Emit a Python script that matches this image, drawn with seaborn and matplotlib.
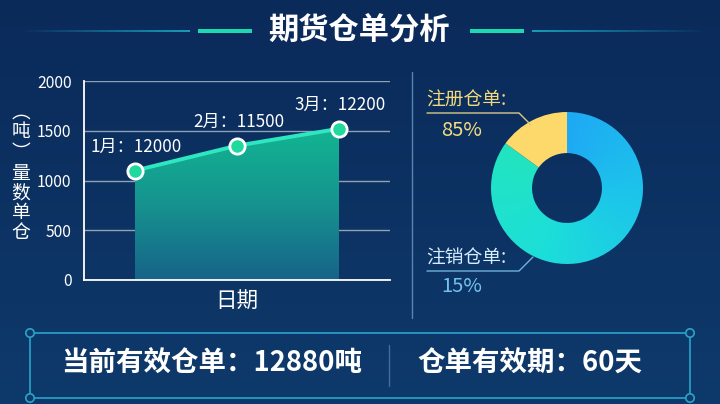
import matplotlib.pyplot as plt
import numpy as np
import seaborn as sns
from matplotlib.colors import LinearSegmentedColormap, to_rgb
from matplotlib.patches import Circle, Rectangle


# Canvas size in pixels (dpi 100).
W, H = 720, 404

# Line chart data.
MONTHS = ["1月", "2月", "3月"]
VOLUMES = [1100, 1350, 1520]
POINT_LABELS = ["1月：12000", "2月：11500", "3月：12200"]
Y_TICKS = [0, 500, 1000, 1500, 2000]

# Stacked y-axis title, top to bottom as in the picture.
Y_TITLE_UNIT = "︵\n吨\n︶"
Y_TITLE_NAME = "量\n数\n单\n仓"

# Donut data: big gradient wedge, then the small yellow one.
PIE_SHARES = [85, 15]
REGISTERED = ("注册仓单:", "85%")
CANCELLED = ("注销仓单:", "15%")

# Summary strip.
SUMMARY = ["当前有效仓单：12880吨", "仓单有效期：60天"]

TITLE = "期货仓单分析"

# Colours.
BG_TOP = "#0a2a5a"
BG_BOTTOM = "#0e3a6b"
TEAL = "#1ed9b0"
LINE = "#2ee6c0"
YELLOW = "#fdd86a"
FRAME = "#2aa3c9"


def pixel_axes(fig, zorder):
    """Full-figure axes working in pixel coordinates (y downwards)."""
    ax = fig.add_axes([0, 0, 1, 1], zorder=zorder)
    ax.set_xlim(0, W)
    ax.set_ylim(H, 0)
    ax.axis("off")
    return ax


def rect_px(left, top, width, height):
    return [left / W, 1 - (top + height) / H, width / W, height / H]


def draw_background(fig):
    ax = pixel_axes(fig, -10)
    grad = np.linspace(0, 1, 256)[:, None]
    cmap = LinearSegmentedColormap.from_list("bg", [BG_TOP, BG_BOTTOM])
    ax.imshow(grad, cmap=cmap, extent=[0, W, H, 0], aspect="auto")
    ax.set_xlim(0, W)
    ax.set_ylim(H, 0)


def draw_title(ov):
    ov.text(359, 30, TITLE, ha="center", va="center", color="white",
            fontsize=21.8, fontweight="bold")
    ov.add_patch(Rectangle((198, 28.5), 54, 4.5, color=TEAL, lw=0))
    ov.add_patch(Rectangle((470, 28.5), 54, 4.5, color=TEAL, lw=0))
    # thin lines fading out towards the edges
    r, g, b = to_rgb("#1aa8c4")
    fade = np.linspace(0, 1, 200)
    strip = np.zeros((1, 200, 4))
    strip[0, :, 0], strip[0, :, 1], strip[0, :, 2] = r, g, b
    strip[0, :, 3] = fade * 0.9
    ov.imshow(strip, extent=[18, 190, 31.6, 30.2], aspect="auto")
    ov.imshow(strip[:, ::-1], extent=[532, 708, 31.6, 30.2], aspect="auto")
    ov.set_xlim(0, W)
    ov.set_ylim(H, 0)


def draw_line_chart(fig):
    ax = fig.add_axes(rect_px(84, 81, 306, 199), zorder=1)
    ax.patch.set_alpha(0)
    x = np.arange(len(MONTHS))

    # gradient area under the line
    fill = ax.fill_between(x, VOLUMES, 0, facecolor="none", lw=0)
    cmap = LinearSegmentedColormap.from_list(
        "area", ["#176389", "#16938f", "#12b592"])
    grad = np.linspace(0, 1, 256)[:, None]
    im = ax.imshow(grad, cmap=cmap, origin="lower", aspect="auto",
                   extent=[-0.5, 2.5, 0, max(VOLUMES)], zorder=2)
    im.set_clip_path(fill.get_paths()[0], transform=ax.transData)

    sns.lineplot(x=x, y=VOLUMES, ax=ax, color=LINE, linewidth=2.8,
                 marker="o", markersize=11, markerfacecolor="#1fd99e",
                 markeredgecolor="white", markeredgewidth=2, zorder=5)

    for xi, yi, label in zip(x, VOLUMES, POINT_LABELS):
        ax.annotate(label, (xi, yi), xytext=(1, 17), textcoords="offset points",
                    ha="center", va="center", color="white", fontsize=12.3,
                    zorder=6)

    ax.set_xlim(-0.5, 2.5)
    ax.set_ylim(0, 2000)
    ax.set_yticks(Y_TICKS)
    ax.set_xticks([])
    ax.grid(axis="y", color="white", alpha=0.55, linewidth=1)
    ax.grid(axis="x", visible=False)
    ax.tick_params(axis="y", length=0, pad=9, labelcolor="white", labelsize=11.3)
    sns.despine(ax=ax)
    for side in ("left", "bottom"):
        ax.spines[side].set_color("white")
        ax.spines[side].set_linewidth(1.3)
    ax.set_xlabel("日期", color="white", fontsize=15.5, labelpad=8)
    ax.set_ylabel("")


def draw_y_label(ov):
    # upright stacked characters; vertical-form brackets around the unit
    ov.text(21, 132, Y_TITLE_UNIT, ha="center", va="center", color="white",
            fontsize=13.5, linespacing=0.95, multialignment="center")
    ov.text(21, 203, Y_TITLE_NAME, ha="center", va="center", color="white",
            fontsize=13.5, linespacing=0.9, multialignment="center")


def draw_donut(fig, ov):
    ax = fig.add_axes(rect_px(487, 108, 160, 160), zorder=1)
    wedges, _ = ax.pie(PIE_SHARES, colors=["none", YELLOW], startangle=90,
                       counterclock=False, radius=1,
                       wedgeprops=dict(width=0.54, linewidth=0))

    # angular gradient, clockwise from the top
    xs = np.linspace(-1, 1, 300)
    gx, gy = np.meshgrid(xs, xs[::-1])
    theta = np.degrees(np.arctan2(gx, gy)) % 360
    t = theta / (360 * PIE_SHARES[0] / sum(PIE_SHARES))
    cmap = LinearSegmentedColormap.from_list(
        "ring", ["#1fa9f4", "#1cc6ea", "#1ddfd8", "#22e4c0"])
    im = ax.imshow(cmap(np.clip(t, 0, 1)), extent=[-1, 1, -1, 1], zorder=0)
    im.set_clip_path(wedges[0])
    lim = 80 / 76
    ax.set_xlim(-lim, lim)
    ax.set_ylim(-lim, lim)
    ax.set_aspect("equal")
    ax.axis("off")

    # labels with leader lines
    ov.text(426, 100, REGISTERED[0], ha="left", va="center", color="#f2d97c",
            fontsize=13.5)
    ov.text(462, 130, REGISTERED[1], ha="center", va="center",
            color="#f5dc80", fontsize=14.5)
    ov.plot([427, 519, 531], [113, 113, 125], color="#d8c98a", lw=1)
    ov.text(426, 258, CANCELLED[0], ha="left", va="center", color="#d6ecff",
            fontsize=13.5)
    ov.text(462, 286, CANCELLED[1], ha="center", va="center",
            color="#72c2f0", fontsize=14.5)
    ov.plot([427, 519, 533], [271, 271, 257], color="#6fb2dc", lw=1)

    # divider between the two charts
    ov.plot([412, 412], [72, 318], color="#7aa8d0", lw=1, alpha=0.7)


def draw_summary(ov):
    ov.plot([30, 690], [333, 333], color=FRAME, lw=1.2)
    ov.plot([30, 690], [398, 398], color=FRAME, lw=1.2)
    ov.plot([30, 30], [333, 398], color=FRAME, lw=1.2)
    ov.plot([690, 690], [333, 398], color=FRAME, lw=1.2)
    for cx, cy in [(30, 333), (690, 333), (30, 398), (690, 398)]:
        ov.add_patch(Circle((cx, cy), 4.2, facecolor="#0d3a6a",
                            edgecolor=FRAME, lw=1.2, zorder=3))
    ov.plot([389, 389], [345, 386], color="#3d6f9e", lw=1)
    ov.text(212, 364, SUMMARY[0], ha="center", va="center", color="white",
            fontsize=19.8, fontweight="bold")
    ov.text(530, 364, SUMMARY[1], ha="center", va="center", color="white",
            fontsize=19.8, fontweight="bold")


def main():
    sns.set_theme(style="white")
    plt.rcParams["font.family"] = ["Noto Sans CJK SC", "DejaVu Sans"]
    plt.rcParams["axes.unicode_minus"] = False

    fig = plt.figure(figsize=(W / 100, H / 100), dpi=100)
    fig.patch.set_facecolor(BG_TOP)
    draw_background(fig)

    ov = pixel_axes(fig, 10)
    draw_title(ov)
    draw_line_chart(fig)
    draw_y_label(ov)
    draw_donut(fig, ov)
    draw_summary(ov)
    ov.set_xlim(0, W)
    ov.set_ylim(H, 0)

    fig.savefig("out.png", dpi=100, facecolor=fig.get_facecolor())
    plt.close(fig)


if __name__ == "__main__":
    main()
